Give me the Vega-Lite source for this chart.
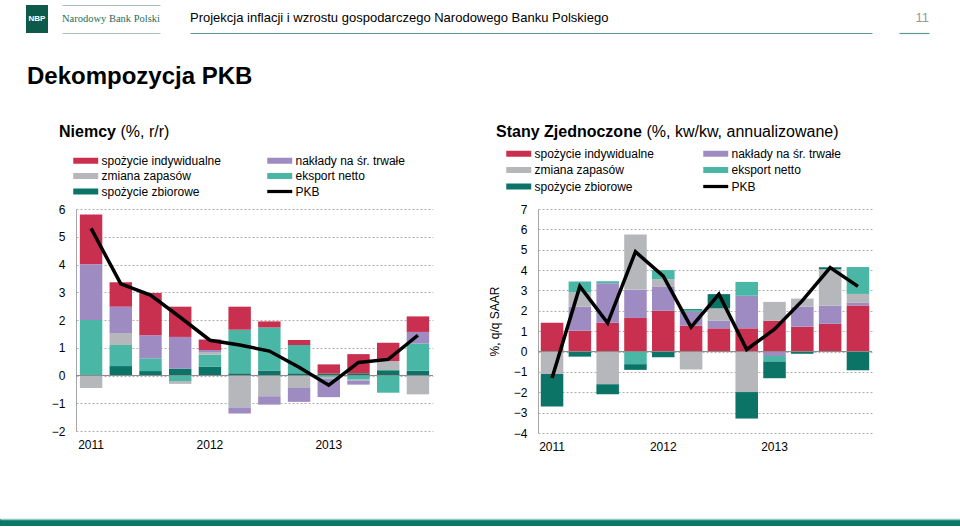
{
  "$schema": "https://vega.github.io/schema/vega-lite/v6.json",
  "background": "white",
  "padding": {"left": 0, "top": 5, "right": 0, "bottom": 0},
  "config": {
    "font": "Liberation Sans, Arial, sans-serif",
    "view": {"stroke": null},
    "axis": {"labelFont": "Liberation Sans, Arial, sans-serif", "labelColor": "#000", "labelFontSize": 12, "titleFont": "Liberation Sans, Arial, sans-serif", "titleFontWeight": "normal", "titleFontSize": 12, "titleColor": "#000"},
    "legend": {"labelFont": "Liberation Sans, Arial, sans-serif"},
    "title": {"font": "Liberation Sans, Arial, sans-serif"}
  },
  "datasets": {
    "ord_de": [
      {"s": "spożycie zbiorowe", "k": 1},
      {"s": "eksport netto", "k": 2},
      {"s": "zmiana zapasów", "k": 3},
      {"s": "nakłady na śr. trwałe", "k": 4},
      {"s": "spożycie indywidualne", "k": 5}
    ],
    "ord_us": [
      {"s": "spożycie indywidualne", "k": 1},
      {"s": "nakłady na śr. trwałe", "k": 2},
      {"s": "zmiana zapasów", "k": 3},
      {"s": "eksport netto", "k": 4},
      {"s": "spożycie zbiorowe", "k": 5}
    ],
    "de": [
      {"q": "2011 Q1", "s": "spożycie indywidualne", "v": 1.8},
      {"q": "2011 Q1", "s": "nakłady na śr. trwałe", "v": 2.0},
      {"q": "2011 Q1", "s": "zmiana zapasów", "v": -0.45},
      {"q": "2011 Q1", "s": "eksport netto", "v": 2.0},
      {"q": "2011 Q1", "s": "PKB", "v": 5.3},
      {"q": "2011 Q2", "s": "spożycie zbiorowe", "v": 0.34},
      {"q": "2011 Q2", "s": "eksport netto", "v": 0.76},
      {"q": "2011 Q2", "s": "zmiana zapasów", "v": 0.43},
      {"q": "2011 Q2", "s": "nakłady na śr. trwałe", "v": 0.95},
      {"q": "2011 Q2", "s": "spożycie indywidualne", "v": 0.88},
      {"q": "2011 Q2", "s": "PKB", "v": 3.3},
      {"q": "2011 Q3", "s": "spożycie zbiorowe", "v": 0.16},
      {"q": "2011 Q3", "s": "eksport netto", "v": 0.46},
      {"q": "2011 Q3", "s": "nakłady na śr. trwałe", "v": 0.83},
      {"q": "2011 Q3", "s": "spożycie indywidualne", "v": 1.52},
      {"q": "2011 Q3", "s": "PKB", "v": 2.9},
      {"q": "2011 Q4", "s": "spożycie zbiorowe", "v": 0.25},
      {"q": "2011 Q4", "s": "eksport netto", "v": -0.2},
      {"q": "2011 Q4", "s": "zmiana zapasów", "v": -0.1},
      {"q": "2011 Q4", "s": "nakłady na śr. trwałe", "v": 1.14},
      {"q": "2011 Q4", "s": "spożycie indywidualne", "v": 1.09},
      {"q": "2011 Q4", "s": "PKB", "v": 2.1},
      {"q": "2012 Q1", "s": "spożycie zbiorowe", "v": 0.32},
      {"q": "2012 Q1", "s": "eksport netto", "v": 0.43},
      {"q": "2012 Q1", "s": "zmiana zapasów", "v": 0.1},
      {"q": "2012 Q1", "s": "nakłady na śr. trwałe", "v": 0.07},
      {"q": "2012 Q1", "s": "spożycie indywidualne", "v": 0.38},
      {"q": "2012 Q1", "s": "PKB", "v": 1.27},
      {"q": "2012 Q2", "s": "spożycie zbiorowe", "v": 0.08},
      {"q": "2012 Q2", "s": "eksport netto", "v": 1.57},
      {"q": "2012 Q2", "s": "spożycie indywidualne", "v": 0.83},
      {"q": "2012 Q2", "s": "zmiana zapasów", "v": -1.15},
      {"q": "2012 Q2", "s": "nakłady na śr. trwałe", "v": -0.22},
      {"q": "2012 Q2", "s": "PKB", "v": 1.1},
      {"q": "2012 Q3", "s": "spożycie zbiorowe", "v": 0.18},
      {"q": "2012 Q3", "s": "eksport netto", "v": 1.55},
      {"q": "2012 Q3", "s": "spożycie indywidualne", "v": 0.22},
      {"q": "2012 Q3", "s": "zmiana zapasów", "v": -0.75},
      {"q": "2012 Q3", "s": "nakłady na śr. trwałe", "v": -0.3},
      {"q": "2012 Q3", "s": "PKB", "v": 0.88},
      {"q": "2012 Q4", "s": "spożycie zbiorowe", "v": 0.08},
      {"q": "2012 Q4", "s": "eksport netto", "v": 1.02},
      {"q": "2012 Q4", "s": "spożycie indywidualne", "v": 0.18},
      {"q": "2012 Q4", "s": "zmiana zapasów", "v": -0.45},
      {"q": "2012 Q4", "s": "nakłady na śr. trwałe", "v": -0.5},
      {"q": "2012 Q4", "s": "PKB", "v": 0.3},
      {"q": "2013 Q1", "s": "spożycie zbiorowe", "v": 0.07},
      {"q": "2013 Q1", "s": "spożycie indywidualne", "v": 0.33},
      {"q": "2013 Q1", "s": "eksport netto", "v": -0.05},
      {"q": "2013 Q1", "s": "zmiana zapasów", "v": -0.07},
      {"q": "2013 Q1", "s": "nakłady na śr. trwałe", "v": -0.66},
      {"q": "2013 Q1", "s": "PKB", "v": -0.35},
      {"q": "2013 Q2", "s": "spożycie zbiorowe", "v": 0.08},
      {"q": "2013 Q2", "s": "spożycie indywidualne", "v": 0.69},
      {"q": "2013 Q2", "s": "eksport netto", "v": -0.15},
      {"q": "2013 Q2", "s": "zmiana zapasów", "v": -0.03},
      {"q": "2013 Q2", "s": "nakłady na śr. trwałe", "v": -0.15},
      {"q": "2013 Q2", "s": "PKB", "v": 0.47},
      {"q": "2013 Q3", "s": "spożycie zbiorowe", "v": 0.19},
      {"q": "2013 Q3", "s": "zmiana zapasów", "v": 0.33},
      {"q": "2013 Q3", "s": "spożycie indywidualne", "v": 0.66},
      {"q": "2013 Q3", "s": "eksport netto", "v": -0.62},
      {"q": "2013 Q3", "s": "PKB", "v": 0.58},
      {"q": "2013 Q4", "s": "spożycie zbiorowe", "v": 0.17},
      {"q": "2013 Q4", "s": "eksport netto", "v": 0.98},
      {"q": "2013 Q4", "s": "nakłady na śr. trwałe", "v": 0.42},
      {"q": "2013 Q4", "s": "spożycie indywidualne", "v": 0.56},
      {"q": "2013 Q4", "s": "zmiana zapasów", "v": -0.68},
      {"q": "2013 Q4", "s": "PKB", "v": 1.45}
    ],
    "us": [
      {"q": "2011 Q1", "s": "spożycie indywidualne", "v": 1.42},
      {"q": "2011 Q1", "s": "zmiana zapasów", "v": -1.1},
      {"q": "2011 Q1", "s": "spożycie zbiorowe", "v": -1.6},
      {"q": "2011 Q1", "s": "PKB", "v": -1.3},
      {"q": "2011 Q2", "s": "spożycie indywidualne", "v": 1.02},
      {"q": "2011 Q2", "s": "nakłady na śr. trwałe", "v": 1.18},
      {"q": "2011 Q2", "s": "zmiana zapasów", "v": 0.7},
      {"q": "2011 Q2", "s": "eksport netto", "v": 0.54},
      {"q": "2011 Q2", "s": "spożycie zbiorowe", "v": -0.25},
      {"q": "2011 Q2", "s": "PKB", "v": 3.2},
      {"q": "2011 Q3", "s": "spożycie indywidualne", "v": 1.42},
      {"q": "2011 Q3", "s": "nakłady na śr. trwałe", "v": 1.93},
      {"q": "2011 Q3", "s": "eksport netto", "v": 0.1},
      {"q": "2011 Q3", "s": "zmiana zapasów", "v": -1.6},
      {"q": "2011 Q3", "s": "spożycie zbiorowe", "v": -0.5},
      {"q": "2011 Q3", "s": "PKB", "v": 1.4},
      {"q": "2011 Q4", "s": "spożycie indywidualne", "v": 1.65},
      {"q": "2011 Q4", "s": "nakłady na śr. trwałe", "v": 1.38},
      {"q": "2011 Q4", "s": "zmiana zapasów", "v": 2.72},
      {"q": "2011 Q4", "s": "eksport netto", "v": -0.62},
      {"q": "2011 Q4", "s": "spożycie zbiorowe", "v": -0.28},
      {"q": "2011 Q4", "s": "PKB", "v": 4.9},
      {"q": "2012 Q1", "s": "spożycie indywidualne", "v": 2.0},
      {"q": "2012 Q1", "s": "nakłady na śr. trwałe", "v": 1.2},
      {"q": "2012 Q1", "s": "zmiana zapasów", "v": 0.35},
      {"q": "2012 Q1", "s": "eksport netto", "v": 0.45},
      {"q": "2012 Q1", "s": "spożycie zbiorowe", "v": -0.28},
      {"q": "2012 Q1", "s": "PKB", "v": 3.7},
      {"q": "2012 Q2", "s": "spożycie indywidualne", "v": 1.27},
      {"q": "2012 Q2", "s": "nakłady na śr. trwałe", "v": 0.68},
      {"q": "2012 Q2", "s": "eksport netto", "v": 0.07},
      {"q": "2012 Q2", "s": "spożycie zbiorowe", "v": 0.06},
      {"q": "2012 Q2", "s": "zmiana zapasów", "v": -0.88},
      {"q": "2012 Q2", "s": "PKB", "v": 1.2},
      {"q": "2012 Q3", "s": "spożycie indywidualne", "v": 1.14},
      {"q": "2012 Q3", "s": "nakłady na śr. trwałe", "v": 0.37},
      {"q": "2012 Q3", "s": "zmiana zapasów", "v": 0.61},
      {"q": "2012 Q3", "s": "spożycie zbiorowe", "v": 0.7},
      {"q": "2012 Q3", "s": "PKB", "v": 2.82},
      {"q": "2012 Q4", "s": "spożycie indywidualne", "v": 1.14},
      {"q": "2012 Q4", "s": "nakłady na śr. trwałe", "v": 1.6},
      {"q": "2012 Q4", "s": "eksport netto", "v": 0.68},
      {"q": "2012 Q4", "s": "zmiana zapasów", "v": -1.99},
      {"q": "2012 Q4", "s": "spożycie zbiorowe", "v": -1.3},
      {"q": "2012 Q4", "s": "PKB", "v": 0.1},
      {"q": "2013 Q1", "s": "spożycie indywidualne", "v": 1.51},
      {"q": "2013 Q1", "s": "zmiana zapasów", "v": 0.93},
      {"q": "2013 Q1", "s": "nakłady na śr. trwałe", "v": -0.22},
      {"q": "2013 Q1", "s": "eksport netto", "v": -0.27},
      {"q": "2013 Q1", "s": "spożycie zbiorowe", "v": -0.82},
      {"q": "2013 Q1", "s": "PKB", "v": 1.1},
      {"q": "2013 Q2", "s": "spożycie indywidualne", "v": 1.22},
      {"q": "2013 Q2", "s": "nakłady na śr. trwałe", "v": 0.98},
      {"q": "2013 Q2", "s": "zmiana zapasów", "v": 0.4},
      {"q": "2013 Q2", "s": "spożycie zbiorowe", "v": -0.11},
      {"q": "2013 Q2", "s": "PKB", "v": 2.5},
      {"q": "2013 Q3", "s": "spożycie indywidualne", "v": 1.36},
      {"q": "2013 Q3", "s": "nakłady na śr. trwałe", "v": 0.89},
      {"q": "2013 Q3", "s": "zmiana zapasów", "v": 1.79},
      {"q": "2013 Q3", "s": "spożycie zbiorowe", "v": 0.1},
      {"q": "2013 Q3", "s": "PKB", "v": 4.12},
      {"q": "2013 Q4", "s": "spożycie indywidualne", "v": 2.26},
      {"q": "2013 Q4", "s": "nakłady na śr. trwałe", "v": 0.13},
      {"q": "2013 Q4", "s": "zmiana zapasów", "v": 0.44},
      {"q": "2013 Q4", "s": "eksport netto", "v": 1.32},
      {"q": "2013 Q4", "s": "spożycie zbiorowe", "v": -0.92},
      {"q": "2013 Q4", "s": "PKB", "v": 3.2}
    ]
  },
  "spacing": 67,
  "vconcat": [
    {
      "spacing": 32,
      "vconcat": [
        {
          "spacing": 0,
          "hconcat": [
            {"width": 26, "height": 28, "data": {"values": []}, "mark": "point"},
            {"width": 22, "height": 28, "view": {"fill": "#0d5a4a"}, "data": {"values": [{"t": "NBP"}]},
             "mark": {"type": "text", "color": "#ffffff", "fontWeight": "bold", "fontSize": 8},
             "encoding": {"text": {"field": "t"}}},
            {"width": 14, "height": 28, "data": {"values": []}, "mark": "point"},
            {"width": 98, "height": 28, "data": {"values": [{"t": "Narodowy Bank Polski"}]},
             "layer": [
               {"mark": {"type": "rule", "opacity": 0},
                "encoding": {"y": {"datum": 0, "type": "quantitative", "scale": {"domain": [0, 1]},
                  "axis": {"values": [0, 1], "grid": true, "gridColor": "#a9c3bc", "gridWidth": 1.2, "domain": false, "ticks": false, "labels": false, "title": null}}}},
               {"mark": {"type": "text", "font": "Liberation Serif", "fontSize": 10.5, "color": "#1f6b59"},
                "encoding": {"text": {"field": "t"}}}
             ]},
            {"width": 30, "height": 28, "data": {"values": []}, "mark": "point"},
            {"width": 682, "height": 28, "data": {"values": [{}]},
             "title": {"text": "Projekcja inflacji i wzrostu gospodarczego Narodowego Banku Polskiego", "anchor": "start", "frame": "group", "fontSize": 13, "fontWeight": "normal", "color": "#000", "offset": -20},
             "mark": {"type": "rule", "opacity": 0},
             "encoding": {"y": {"datum": 0, "type": "quantitative", "scale": {"domain": [0, 1]},
               "axis": {"values": [0], "grid": true, "gridColor": "#5d9891", "gridWidth": 1.2, "domain": false, "ticks": false, "labels": false, "title": null}}}},
            {"width": 27, "height": 28, "data": {"values": []}, "mark": "point"},
            {"width": 30, "height": 28, "data": {"values": [{}]},
             "title": {"text": "11", "anchor": "end", "frame": "group", "fontSize": 13, "fontWeight": "normal", "color": "#999999", "offset": -20},
             "mark": {"type": "rule", "opacity": 0},
             "encoding": {"y": {"datum": 0, "type": "quantitative", "scale": {"domain": [0, 1]},
               "axis": {"values": [0], "grid": true, "gridColor": "#5d9891", "gridWidth": 1.2, "domain": false, "ticks": false, "labels": false, "title": null}}}}
          ]
        },
        {
          "title": {"text": "Dekompozycja PKB", "anchor": "start", "dx": 27, "fontSize": 24, "fontWeight": "bold", "color": "#000", "offset": 34},
          "spacing": 0,
          "resolve": {"scale": {"x": "independent", "y": "independent", "color": "independent", "shape": "independent"}, "legend": {"color": "independent", "shape": "independent"}},
          "hconcat": [
            {"width": 51, "height": 222, "data": {"values": []}, "mark": "point"},
            {
              "width": 357, "height": 222,
              "data": {"name": "de"},
              "transform": [{"lookup": "s", "from": {"data": {"name": "ord_de"}, "key": "s", "fields": ["k"]}}],
              "title": {"text": "Niemcy", "anchor": "start", "frame": "group", "dx": -17, "offset": -17, "fontSize": 16, "fontWeight": "bold", "color": "#000"},
              "layer": [
                {
                  "transform": [{"filter": "datum.s != 'PKB'"}],
                  "mark": {"type": "bar"},
                  "encoding": {
                    "x": {"field": "q", "type": "ordinal", "scale": {"paddingInner": 0.245, "paddingOuter": 0.13},
                      "axis": {"title": "(%, r/r)", "titleFontSize": 16, "titleFontWeight": "normal", "titleX": 44, "titleY": -295, "titleAlign": "left", "titleBaseline": "alphabetic", "titleAngle": 0, "domain": false, "ticks": false, "labelAngle": 0, "labelPadding": 8, "labelOverlap": false, "labelExpr": "substring(datum.label, 5) == 'Q1' ? substring(datum.label, 0, 4) : ''"}},
                    "y": {"field": "v", "type": "quantitative", "stack": "zero", "scale": {"domain": [-2, 6], "nice": false, "zero": false},
                      "axis": {"values": [-2, -1, 0, 1, 2, 3, 4, 5, 6], "title": null, "grid": true, "gridDash": [2, 2], "gridColor": "#b0b0b0", "domain": true, "domainColor": "#a6a6a6", "ticks": false, "labelPadding": 11, "labelOverlap": false}},
                    "order": {"field": "k", "type": "quantitative", "sort": "ascending"},
                    "color": {"field": "s", "type": "nominal",
                      "scale": {"domain": ["spożycie indywidualne", "zmiana zapasów", "spożycie zbiorowe", "nakłady na śr. trwałe", "eksport netto", "PKB"], "range": ["#c9304f", "#b5b7ba", "#0c7467", "#9e8bc2", "#4ab6a6", "#000000"]},
                      "legend": {"orient": "none", "legendX": -3, "legendY": -55, "columns": 2, "columnPadding": 46, "rowPadding": 2.5, "symbolSize": 156, "symbolOpacity": 1, "symbolStrokeWidth": 0, "labelFontSize": 12, "labelOffset": 15.5, "labelColor": "#000", "labelLimit": 250, "title": null}}
                  }
                },
                {"data": {"values": [{}]}, "mark": {"type": "rule", "color": "#8c8c8c", "strokeWidth": 1},
                 "encoding": {"y": {"datum": 0, "type": "quantitative",
                   "axis": {"values": [-2, -1, 0, 1, 2, 3, 4, 5, 6], "title": null, "grid": true, "gridDash": [2, 2], "gridColor": "#b0b0b0", "domain": true, "domainColor": "#a6a6a6", "ticks": false, "labelPadding": 11, "labelOverlap": false}}}},
                {
                  "transform": [{"filter": "datum.s == 'PKB'"}],
                  "mark": {"type": "line", "color": "#000", "strokeWidth": 3.5},
                  "encoding": {"x": {"field": "q", "type": "ordinal"},
                    "y": {"field": "v", "type": "quantitative",
                      "axis": {"values": [-2, -1, 0, 1, 2, 3, 4, 5, 6], "title": null, "grid": true, "gridDash": [2, 2], "gridColor": "#b0b0b0", "domain": true, "domainColor": "#a6a6a6", "ticks": false, "labelPadding": 11, "labelOverlap": false}}}
                },
                {
                  "mark": {"type": "point", "filled": true, "opacity": 0},
                  "encoding": {
                    "color": {"field": "s", "type": "nominal",
                      "scale": {"domain": ["spożycie indywidualne", "zmiana zapasów", "spożycie zbiorowe", "nakłady na śr. trwałe", "eksport netto", "PKB"], "range": ["#c9304f", "#b5b7ba", "#0c7467", "#9e8bc2", "#4ab6a6", "#000000"]},
                      "legend": {"orient": "none", "legendX": -3, "legendY": -55, "columns": 2, "columnPadding": 46, "rowPadding": 2.5, "symbolSize": 156, "symbolOpacity": 1, "symbolStrokeWidth": 0, "labelFontSize": 12, "labelOffset": 15.5, "labelColor": "#000", "labelLimit": 250, "title": null}},
                    "shape": {"field": "s", "type": "nominal",
                      "scale": {"domain": ["spożycie indywidualne", "zmiana zapasów", "spożycie zbiorowe", "nakłady na śr. trwałe", "eksport netto", "PKB"], "range": ["M-1,-0.48H3V0.48H-1Z", "M-1,-0.48H3V0.48H-1Z", "M-1,-0.48H3V0.48H-1Z", "M-1,-0.48H3V0.48H-1Z", "M-1,-0.48H3V0.48H-1Z", "M-1,-0.26H3V0.26H-1Z"]},
                      "legend": {"orient": "none", "legendX": -3, "legendY": -55, "columns": 2, "columnPadding": 46, "rowPadding": 2.5, "symbolSize": 156, "symbolOpacity": 1, "symbolStrokeWidth": 0, "labelFontSize": 12, "labelOffset": 15.5, "labelColor": "#000", "labelLimit": 250, "title": null}}
                  }
                }
              ]
            },
            {"width": 54, "height": 222, "data": {"values": []}, "mark": "point"},
            {
              "width": 334, "height": 224,
              "data": {"name": "us"},
              "transform": [{"lookup": "s", "from": {"data": {"name": "ord_us"}, "key": "s", "fields": ["k"]}}],
              "title": {"text": "Stany Zjednoczone", "anchor": "start", "frame": "group", "dx": -42, "offset": -17, "fontSize": 16, "fontWeight": "bold", "color": "#000"},
              "layer": [
                {
                  "transform": [{"filter": "datum.s != 'PKB'"}],
                  "mark": {"type": "bar"},
                  "encoding": {
                    "x": {"field": "q", "type": "ordinal", "scale": {"paddingInner": 0.19, "paddingOuter": 0.1},
                      "axis": {"title": "(%, kw/kw, annualizowane)", "titleFontSize": 16, "titleFontWeight": "normal", "titleX": 108, "titleY": -297, "titleAlign": "left", "titleBaseline": "alphabetic", "titleAngle": 0, "domain": false, "ticks": false, "labelAngle": 0, "labelPadding": 8, "labelOverlap": false, "labelExpr": "substring(datum.label, 5) == 'Q1' ? substring(datum.label, 0, 4) : ''"}},
                    "y": {"field": "v", "type": "quantitative", "stack": "zero", "scale": {"domain": [-4, 7], "nice": false, "zero": false},
                      "axis": {"values": [-4, -3, -2, -1, 0, 1, 2, 3, 4, 5, 6, 7], "title": "%, q/q SAAR", "titlePadding": 12, "grid": true, "gridDash": [2, 2], "gridColor": "#b0b0b0", "domain": true, "domainColor": "#a6a6a6", "ticks": false, "labelPadding": 11, "labelOverlap": false}},
                    "order": {"field": "k", "type": "quantitative", "sort": "ascending"},
                    "color": {"field": "s", "type": "nominal",
                      "scale": {"domain": ["spożycie indywidualne", "zmiana zapasów", "spożycie zbiorowe", "nakłady na śr. trwałe", "eksport netto", "PKB"], "range": ["#c9304f", "#b5b7ba", "#0c7467", "#9e8bc2", "#4ab6a6", "#000000"]},
                      "legend": {"orient": "none", "legendX": -32, "legendY": -62, "columns": 2, "columnPadding": 49, "rowPadding": 3.5, "symbolSize": 156, "symbolOpacity": 1, "symbolStrokeWidth": 0, "labelFontSize": 12, "labelOffset": 15.5, "labelColor": "#000", "labelLimit": 250, "title": null}}
                  }
                },
                {"data": {"values": [{}]}, "mark": {"type": "rule", "color": "#8c8c8c", "strokeWidth": 1},
                 "encoding": {"y": {"datum": 0, "type": "quantitative",
                   "axis": {"values": [-4, -3, -2, -1, 0, 1, 2, 3, 4, 5, 6, 7], "title": "%, q/q SAAR", "titlePadding": 12, "grid": true, "gridDash": [2, 2], "gridColor": "#b0b0b0", "domain": true, "domainColor": "#a6a6a6", "ticks": false, "labelPadding": 11, "labelOverlap": false}}}},
                {
                  "transform": [{"filter": "datum.s == 'PKB'"}],
                  "mark": {"type": "line", "color": "#000", "strokeWidth": 3.5},
                  "encoding": {"x": {"field": "q", "type": "ordinal"},
                    "y": {"field": "v", "type": "quantitative",
                      "axis": {"values": [-4, -3, -2, -1, 0, 1, 2, 3, 4, 5, 6, 7], "title": "%, q/q SAAR", "titlePadding": 12, "grid": true, "gridDash": [2, 2], "gridColor": "#b0b0b0", "domain": true, "domainColor": "#a6a6a6", "ticks": false, "labelPadding": 11, "labelOverlap": false}}}
                },
                {
                  "mark": {"type": "point", "filled": true, "opacity": 0},
                  "encoding": {
                    "color": {"field": "s", "type": "nominal",
                      "scale": {"domain": ["spożycie indywidualne", "zmiana zapasów", "spożycie zbiorowe", "nakłady na śr. trwałe", "eksport netto", "PKB"], "range": ["#c9304f", "#b5b7ba", "#0c7467", "#9e8bc2", "#4ab6a6", "#000000"]},
                      "legend": {"orient": "none", "legendX": -32, "legendY": -62, "columns": 2, "columnPadding": 49, "rowPadding": 3.5, "symbolSize": 156, "symbolOpacity": 1, "symbolStrokeWidth": 0, "labelFontSize": 12, "labelOffset": 15.5, "labelColor": "#000", "labelLimit": 250, "title": null}},
                    "shape": {"field": "s", "type": "nominal",
                      "scale": {"domain": ["spożycie indywidualne", "zmiana zapasów", "spożycie zbiorowe", "nakłady na śr. trwałe", "eksport netto", "PKB"], "range": ["M-1,-0.48H3V0.48H-1Z", "M-1,-0.48H3V0.48H-1Z", "M-1,-0.48H3V0.48H-1Z", "M-1,-0.48H3V0.48H-1Z", "M-1,-0.48H3V0.48H-1Z", "M-1,-0.26H3V0.26H-1Z"]},
                      "legend": {"orient": "none", "legendX": -32, "legendY": -62, "columns": 2, "columnPadding": 49, "rowPadding": 3.5, "symbolSize": 156, "symbolOpacity": 1, "symbolStrokeWidth": 0, "labelFontSize": 12, "labelOffset": 15.5, "labelColor": "#000", "labelLimit": 250, "title": null}}
                  }
                }
              ]
            }
          ]
        }
      ]
    },
    {"width": 960, "height": 7, "view": {"fill": "#0b7768"}, "data": {"values": [{}]},
     "mark": {"type": "rule", "opacity": 0},
     "encoding": {"y": {"datum": 0, "type": "quantitative", "scale": {"domain": [0, 1]},
       "axis": {"values": [1], "grid": true, "gridColor": "#8fc9bf", "gridWidth": 1.5, "domain": false, "ticks": false, "labels": false, "title": null}}}}
  ]
}
